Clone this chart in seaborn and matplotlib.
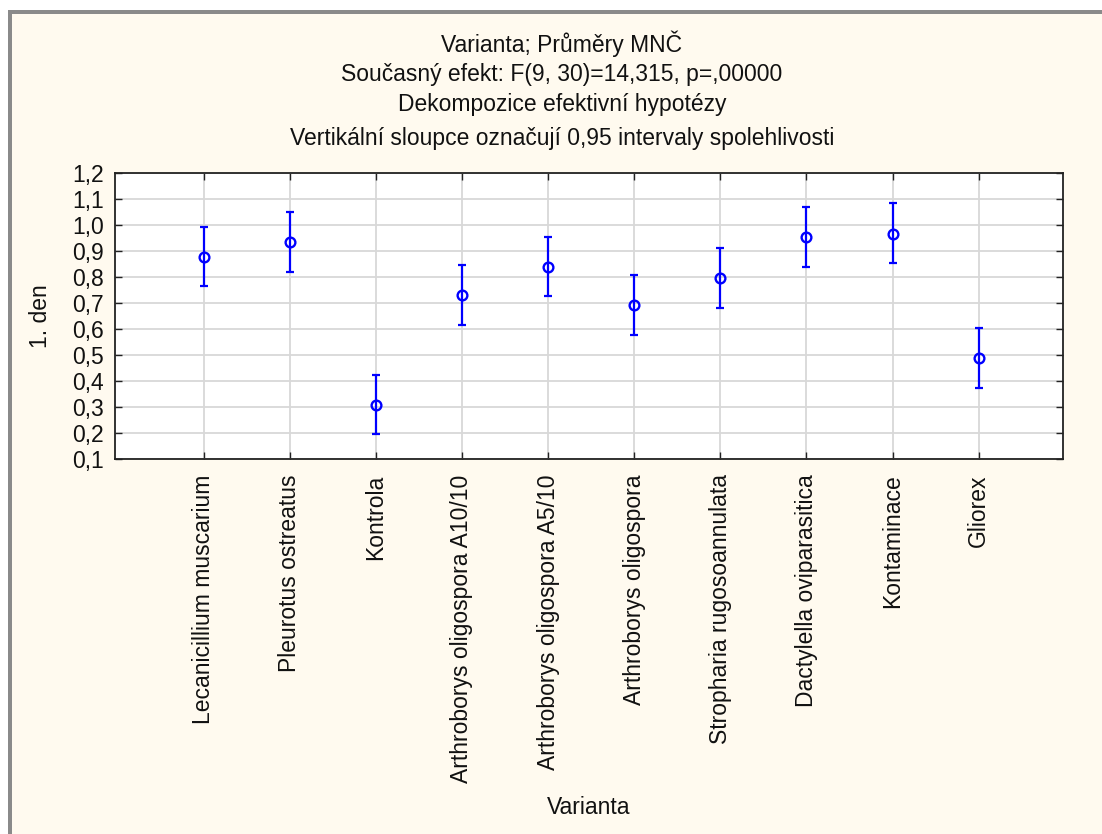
import numpy as np
import pandas as pd
import matplotlib
matplotlib.use('Agg')
import matplotlib.pyplot as plt
from matplotlib.patches import Rectangle
import seaborn as sns

# values
varianty = ['Lecanicillium muscarium', 'Pleurotus ostreatus', 'Kontrola',
            'Arthroborys oligospora A10/10', 'Arthroborys oligospora A5/10',
            'Arthroborys oligospora', 'Stropharia rugosoannulata',
            'Dactylella oviparasitica', 'Kontaminace', 'Gliorex']
prumery = [0.877, 0.935, 0.308, 0.731, 0.839, 0.692, 0.795, 0.954, 0.966, 0.488]
ci_dolni = [0.765, 0.820, 0.195, 0.617, 0.726, 0.578, 0.681, 0.840, 0.853, 0.373]
ci_horni = [0.993, 1.051, 0.424, 0.846, 0.955, 0.808, 0.910, 1.069, 1.083, 0.603]
y_ticks = [0.1, 0.2, 0.3, 0.4, 0.5, 0.6, 0.7, 0.8, 0.9, 1.0, 1.1, 1.2]
y_labels = ['0,1', '0,2', '0,3', '0,4', '0,5', '0,6', '0,7', '0,8', '0,9', '1,0', '1,1', '1,2']
titulky = ['Varianta; Průměry MNČ',
           'Současný efekt: F(9, 30)=14,315, p=,00000',
           'Dekompozice efektivní hypotézy',
           'Vertikální sloupce označují 0,95 intervaly spolehlivosti']

df = pd.DataFrame({'Varianta': varianty, 'den1': prumery,
                   'lo': ci_dolni, 'hi': ci_horni})

sns.set_theme(style='white')
plt.rcParams['font.family'] = ['Liberation Sans', 'DejaVu Sans']

W, H = 1102, 834
cream = '#fffaef'
fs = 16.5
fig = plt.figure(figsize=(W / 100, H / 100), dpi=100, facecolor='white')

# window frame like the STATISTICA graph window
fig.patches.append(Rectangle((8 / W, 0), 1, 1 - 10 / H, transform=fig.transFigure,
                             facecolor='#8a8a8a', edgecolor='none', zorder=-2))
fig.patches.append(Rectangle((12 / W, 0), 1, 1 - 14 / H, transform=fig.transFigure,
                             facecolor=cream, edgecolor='none', zorder=-1))

ax = fig.add_axes([115 / W, 1 - 459 / H, (1063 - 115) / W, (459 - 173) / H])
ax.set_facecolor('white')

sns.pointplot(data=df, x='Varianta', y='den1', order=varianty, errorbar=None,
              linestyle='none', marker='o', color='#0000ff', markersize=7,
              markerfacecolor='none', markeredgewidth=1.7, ax=ax, zorder=4)

x = np.arange(len(varianty))
yerr = np.vstack([df['den1'] - df['lo'], df['hi'] - df['den1']])
ax.errorbar(x, df['den1'], yerr=yerr, fmt='none', ecolor='#0000ff',
            elinewidth=1.6, capsize=3, capthick=1.6, zorder=3)

ax.set_xlim(-1.03, 9.98)
ax.set_ylim(0.1, 1.2)
ax.set_yticks(y_ticks)
ax.set_yticklabels(y_labels)
ax.set_xticks(x)
ax.set_xticklabels(varianty, rotation=90)

ax.grid(True, color='#d8d8d8', linewidth=1.3)
ax.set_axisbelow(True)
for s in ax.spines.values():
    s.set_color('#222222')
    s.set_linewidth(1.3)

ax.tick_params(axis='both', which='both', direction='in', length=5, width=1,
               color='#222222', top=True, right=True, bottom=True, left=True,
               labelsize=fs, labelcolor='#111111')
ax.tick_params(axis='x', pad=11)
ax.tick_params(axis='y', pad=8)

ax.set_ylabel('1. den', fontsize=fs, color='#111111', va='center')
ax.yaxis.set_label_coords(-0.079, 0.5)
ax.set_xlabel('Varianta', fontsize=fs, color='#111111', va='center')
ax.xaxis.set_label_coords(0.5, -(808 - 459) / (459 - 173))

for t, yy in zip(titulky, [44, 75, 105, 138]):
    fig.text(562 / W, 1 - yy / H, t, ha='center', va='center', fontsize=fs,
             color='#111111')

fig.savefig('out.png', dpi=100, facecolor=fig.get_facecolor())
